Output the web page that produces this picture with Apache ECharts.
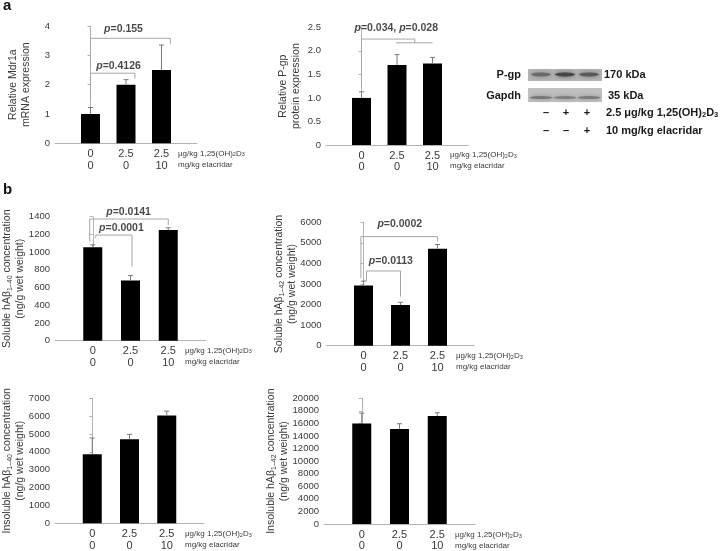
<!DOCTYPE html>
<html><head><meta charset="utf-8">
<script src="https://cdn.jsdelivr.net/npm/echarts@6/dist/echarts.min.js"></script>
<style>html,body{margin:0;padding:0;background:#fff}#c{width:720px;height:551px}</style>
</head><body><div id="c"></div>
<script>
// ---- data ----
const calcitriolDose = ['0', '2.5', '2.5'];
const elacridarDose = ['0', '0', '10'];
const calcitriolSign = ['\u2013', '+', '+'];
const elacridarSign = ['\u2013', '\u2013', '+'];

const mdr1aMean = [1.0, 2.0, 2.5];
const mdr1aErr = [0.22, 0.17, 0.85];
const pgpMean = [1.0, 1.70, 1.73];
const pgpErr = [0.13, 0.22, 0.13];
const solAb40Mean = [1055, 680, 1250];
const solAb40Err = [28, 55, 25];
const solAb42Mean = [2930, 1980, 4720];
const solAb42Err = [210, 130, 200];
const insolAb40Mean = [3860, 4700, 6030];
const insolAb40Err = [920, 280, 250];
const insolAb42Mean = [16000, 15100, 17200];
const insolAb42Err = [1650, 850, 500];

// significance brackets (value coordinates) and p-value labels
const mdr1aBrackets = [
  [[0, 1.48], [0, 2.39], [1.25, 2.39], [1.25, 2.2]],
  [[0, 2.61], [0, 3.58], [2.25, 3.58], [2.25, 3.39]]
];
const mdr1aP = [['p=0.4126', 0.79, 2.62], ['p=0.155', 0.93, 3.89]];
const pgpBrackets = [
  [[0, 1.2], [0, 2.25], [1.5, 2.25], [1.5, 2.17]],
  [[0.97, 2.17], [2.0, 2.17]]
];
const pgpP = [['p=0.034, p=0.028', 0.98, 2.48]];
const solAb40Brackets = [
  [[-0.08, 1118], [-0.08, 1374], [2.0, 1374], [2.0, 1306]],
  [[0.08, 1156], [0.08, 1193], [1.04, 1193], [1.04, 835]]
];
const solAb40P = [['p=0.0141', 0.95, 1456], ['p=0.0001', 0.76, 1276]];
const solAb42Brackets = [
  [[-0.07, 3280], [-0.07, 5304], [2.0, 5304], [2.0, 5061]],
  [[0.08, 3148], [0.08, 3635], [1.0, 3635], [1.0, 2384]]
];
const solAb42P = [['p=0.0002', 0.98, 5922], ['p=0.0113', 0.74, 4136]];

// ---- styling / layout ----
const FONT = 'Liberation Sans, Arial, sans-serif';
const TXT = '#3a3a3a';
const AXIS = '#b3b3b3';

const panels = [
  { mean: mdr1aMean, err: mdr1aErr, yMax: 4, yStep: 1,
    name: 'Relative Mdr1a\nmRNA expression', nameGap: 22,
    grid: { left: 55, top: 26, width: 142, height: 117.3 },
    brackets: mdr1aBrackets, pvals: mdr1aP, unit: [178, 153.7] },
  { mean: pgpMean, err: pgpErr, yMax: 2.5, yStep: 0.5,
    fmt: v => (v === 0 ? '0' : v.toFixed(1)),
    name: 'Relative P-gp\nprotein expression', nameGap: 23,
    grid: { left: 326, top: 27.3, width: 142, height: 117.7 },
    brackets: pgpBrackets, pvals: pgpP, unit: [450, 155] },
  { mean: solAb40Mean, err: solAb40Err, yMax: 1400, yStep: 200,
    name: 'Soluble hA\u03b2{s|1\u201340} concentration\n(ng/g wet weight)', nameGap: 28,
    grid: { left: 55, top: 216.7, width: 151, height: 124 },
    brackets: solAb40Brackets, pvals: solAb40P, unit: [185, 350.3] },
  { mean: solAb42Mean, err: solAb42Err, yMax: 6000, yStep: 1000,
    name: 'Soluble hA\u03b2{s|1\u201342} concentration\n(ng/g wet weight)', nameGap: 28,
    grid: { left: 326.5, top: 222.3, width: 148, height: 123.4 },
    brackets: solAb42Brackets, pvals: solAb42P, unit: [456, 356] },
  { mean: insolAb40Mean, err: insolAb40Err, yMax: 7000, yStep: 1000,
    name: 'Insoluble hA\u03b2{s|1\u201340} concentration\n(ng/g wet weight)', nameGap: 28,
    grid: { left: 55, top: 398.3, width: 149, height: 125 },
    brackets: [], pvals: [], unit: [185, 534] },
  { mean: insolAb42Mean, err: insolAb42Err, yMax: 20000, yStep: 2000,
    name: 'Insoluble hA\u03b2{s|1\u201342} concentration\n(ng/g wet weight)', nameGap: 33,
    grid: { left: 324, top: 398.3, width: 151, height: 125.7 },
    brackets: [], pvals: [], unit: [455, 535] }
];

const grids = [], xAxes = [], yAxes = [], series = [], graphics = [];

panels.forEach((p, i) => {
  grids.push(Object.assign({ outerBoundsMode: 'none', containLabel: false }, p.grid));
  xAxes.push({
    gridIndex: i, type: 'value', min: -1, max: 3, interval: 1,
    splitLine: { show: false },
    axisLine: { show: true, lineStyle: { color: AXIS, width: 1 } },
    axisTick: { show: false },
    axisLabel: {
      show: true, interval: 0, margin: 5, fontSize: 11, lineHeight: 11.5,
      color: TXT, fontFamily: FONT, showMinLabel: true, showMaxLabel: true,
      formatter: v => (v >= 0 && v <= 2 ? calcitriolDose[v] + '\n' + elacridarDose[v] : '')
    }
  });
  yAxes.push({
    gridIndex: i, type: 'value', min: 0, max: p.yMax, interval: p.yStep,
    splitLine: { show: false },
    axisLine: { show: true, lineStyle: { color: AXIS, width: 1 } },
    axisTick: { show: true, length: 3, lineStyle: { color: AXIS } },
    axisLabel: { fontSize: 9.5, color: TXT, fontFamily: FONT, margin: 5,
      formatter: p.fmt || (v => String(v)) },
    name: p.name, nameLocation: 'middle', nameRotate: 90, nameGap: p.nameGap,
    nameMoveOverlap: false,
    nameTextStyle: {
      fontSize: 10.5, lineHeight: 13, color: TXT, fontFamily: FONT,
      rich: { s: { fontSize: 7, lineHeight: 7, verticalAlign: 'bottom', color: TXT, fontFamily: FONT } }
    }
  });
  series.push({
    type: 'bar', xAxisIndex: i, yAxisIndex: i, silent: true,
    barWidth: 19, itemStyle: { color: '#000' },
    data: p.mean.map((v, k) => [k, v])
  });
  series.push({
    type: 'custom', xAxisIndex: i, yAxisIndex: i, silent: true, z: 3, clip: false,
    data: p.mean.map((v, k) => [k, v, p.err[k]]),
    renderItem: (params, api) => {
      const x = api.value(0), y = api.value(1), e = api.value(2);
      const a = api.coord([x, y]), b = api.coord([x, y + e]);
      const st = { stroke: '#7a7a7a', lineWidth: 1 };
      return { type: 'group', children: [
        { type: 'line', shape: { x1: a[0], y1: a[1], x2: b[0], y2: b[1] }, style: st },
        { type: 'line', shape: { x1: b[0] - 2.5, y1: b[1], x2: b[0] + 2.5, y2: b[1] }, style: st }
      ] };
    }
  });
  p.brackets.forEach(br => {
    series.push({
      type: 'line', xAxisIndex: i, yAxisIndex: i, silent: true, symbol: 'none', clip: false,
      lineStyle: { color: '#a6a6a6', width: 1 }, data: br, z: 2
    });
  });
  if (p.pvals.length) {
    series.push({
      type: 'scatter', xAxisIndex: i, yAxisIndex: i, silent: true, symbolSize: 0, clip: false,
      data: p.pvals.map(q => [q[1], q[2], q[0]]),
      label: {
        show: true, position: 'inside', color: '#1a1a1a', fontSize: 10.5,
        fontWeight: 'bold', fontFamily: FONT,
        formatter: d => d.data[2].replace(/p=/g, '{i|p}='),
        rich: { i: { fontStyle: 'italic', fontWeight: 'bold', fontSize: 10.5, color: '#1a1a1a', fontFamily: FONT } }
      }
    });
  }
  // unit legend of the x-axis rows
  graphics.push({ type: 'text', x: p.unit[0], y: p.unit[1], silent: true, style: {
    text: 'μg/kg 1,25(OH){s|2}D{s|3}', fill: TXT, fontSize: 8, fontFamily: FONT,
    align: 'left', verticalAlign: 'middle',
    rich: { s: { fontSize: 5.5, lineHeight: 6, verticalAlign: 'bottom', fill: TXT, fontFamily: FONT } } } });
  graphics.push({ type: 'text', x: p.unit[0], y: p.unit[1] + 11, silent: true, style: {
    text: 'mg/kg elacridar', fill: TXT, fontSize: 8, fontFamily: FONT,
    align: 'left', verticalAlign: 'middle' } });
});

// panel letters
graphics.push({ type: 'text', x: 3, y: 6, style: { text: 'a', fontSize: 15, fontWeight: 'bold', fontFamily: FONT, fill: '#111', verticalAlign: 'middle' } });
graphics.push({ type: 'text', x: 3, y: 190, style: { text: 'b', fontSize: 15, fontWeight: 'bold', fontFamily: FONT, fill: '#111', verticalAlign: 'middle' } });

// western blot inset
const blotLanes = [541, 565, 589];
const bold = { fontSize: 11, fontWeight: 'bold', fontFamily: FONT, fill: '#1a1a1a', verticalAlign: 'middle' };
graphics.push({ type: 'rect', shape: { x: 528, y: 69, width: 74, height: 12 }, style: { fill: '#b4b4b4' } });
graphics.push({ type: 'rect', shape: { x: 528, y: 88, width: 74, height: 14 }, style: { fill: '#c0c0c0' } });
[0.5, 0.85, 0.65].forEach((o, k) => {
  graphics.push({ type: 'ellipse', shape: { cx: blotLanes[k], cy: 74.5, rx: 10, ry: 2 },
    style: { fill: '#3c3c3c', opacity: o, shadowBlur: 4, shadowColor: '#555' } });
});
[0.6, 0.5, 0.55].forEach((o, k) => {
  graphics.push({ type: 'ellipse', shape: { cx: blotLanes[k], cy: 97.5, rx: 11.5, ry: 1.6 },
    style: { fill: '#555', opacity: o, shadowBlur: 4, shadowColor: '#666' } });
});
graphics.push({ type: 'text', x: 521, y: 75, style: Object.assign({ text: 'P-gp', align: 'right' }, bold) });
graphics.push({ type: 'text', x: 521, y: 96, style: Object.assign({ text: 'Gapdh', align: 'right' }, bold) });
graphics.push({ type: 'text', x: 604, y: 75, style: Object.assign({ text: '170 kDa', align: 'left' }, bold) });
graphics.push({ type: 'text', x: 608, y: 96, style: Object.assign({ text: '35 kDa', align: 'left' }, bold) });
const signX = [546, 566, 587];
calcitriolSign.forEach((s, k) => graphics.push({ type: 'text', x: signX[k], y: 113, style: Object.assign({ text: s, align: 'center' }, bold) }));
elacridarSign.forEach((s, k) => graphics.push({ type: 'text', x: signX[k], y: 131, style: Object.assign({ text: s, align: 'center' }, bold) }));
graphics.push({ type: 'text', x: 606, y: 113, style: Object.assign({ text: '2.5 μg/kg 1,25(OH){s|2}D{s|3}', align: 'left',
  rich: { s: { fontSize: 7.5, lineHeight: 7, verticalAlign: 'bottom', fontWeight: 'bold', fontFamily: FONT, fill: '#1a1a1a' } } }, bold) });
graphics.push({ type: 'text', x: 606, y: 131, style: Object.assign({ text: '10 mg/kg elacridar', align: 'left' }, bold) });

const chart = echarts.init(document.getElementById('c'), null, { width: 720, height: 551 });
chart.setOption({
  backgroundColor: '#fff',
  animation: false,
  grid: grids, xAxis: xAxes, yAxis: yAxes, series: series,
  graphic: graphics
});
</script></body></html>
